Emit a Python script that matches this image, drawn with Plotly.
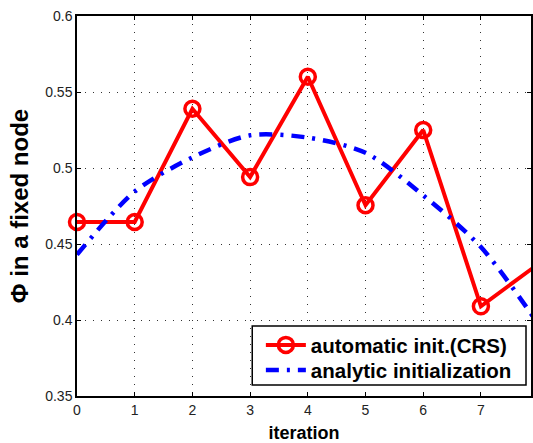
import plotly.graph_objects as go

iterations = [0, 1, 2, 3, 4, 5, 6, 7, 8]
automatic_crs = [0.4645, 0.4645, 0.539, 0.494, 0.560, 0.4755, 0.525, 0.409, 0.437]
analytic_init = [0.443, 0.4845, 0.507, 0.5215, 0.520, 0.510, 0.482, 0.448, 0.397]
x_ticks = [0, 1, 2, 3, 4, 5, 6, 7]
y_ticks = [0.35, 0.4, 0.45, 0.5, 0.55, 0.6]
y_tick_text = ["0.35", "0.4", "0.45", "0.5", "0.55", "0.6"]

fig = go.Figure()
fig.add_trace(go.Scatter(
    x=iterations, y=automatic_crs, mode="lines+markers",
    name="automatic init.(CRS)", legend="legend", showlegend=True,
    line=dict(color="#ff0000", width=4),
    marker=dict(symbol="circle-open", size=15, color="#ff0000", line=dict(width=3.5, color="#ff0000")),
    cliponaxis=False,
))
fig.add_trace(go.Scatter(
    x=iterations, y=analytic_init, mode="lines",
    name="analytic initialization", legend="legend2", showlegend=True,
    line=dict(color="#0000ff", width=4.5, dash="13px,8px,3px,8px", shape="spline", smoothing=0.8),
))

leg_font = dict(size=20.5, family="Liberation Sans, Arial", color="black", weight="bold")
fig.update_layout(
    width=533, height=443, showlegend=True,
    margin=dict(l=77, r=0, t=16, b=47),
    plot_bgcolor="white", paper_bgcolor="white",
    font=dict(family="Liberation Sans, Arial", color="#222", size=14),
    legend=dict(x=0.405, y=0.134, xanchor="left", yanchor="middle", visible=True,
                bgcolor="rgba(0,0,0,0)", borderwidth=0, font=leg_font, itemwidth=40),
    legend2=dict(x=0.405, y=0.068, xanchor="left", yanchor="middle", visible=True,
                 bgcolor="rgba(0,0,0,0)", borderwidth=0, font=leg_font, itemwidth=40),
    shapes=[dict(type="rect", xref="paper", yref="paper", x0=0.386, x1=0.989, y0=0.029, y1=0.184,
                 fillcolor="white", line=dict(color="black", width=1.5), layer="above")],
)
fig.update_xaxes(
    range=[0, 7.868], tickvals=x_ticks, ticks="inside", ticklen=4, tickcolor="black",
    showline=True, linecolor="black", linewidth=1.5, mirror="ticks",
    showgrid=True, gridcolor="#333", griddash="1px,7px", gridwidth=1,
    zeroline=False,
    title=dict(text="iteration", font=dict(size=18, color="black", weight="bold"), standoff=11),
)
fig.update_yaxes(
    range=[0.35, 0.6], tickvals=y_ticks, ticktext=y_tick_text, ticks="inside", ticklen=4, tickcolor="black",
    showline=True, linecolor="black", linewidth=1.5, mirror="ticks",
    showgrid=True, gridcolor="#333", griddash="1px,7px", gridwidth=1,
    zeroline=False,
    title=dict(text="Φ in a fixed node", font=dict(size=24, color="black", weight="bold"), standoff=10),
)

fig.write_html("out.html")
